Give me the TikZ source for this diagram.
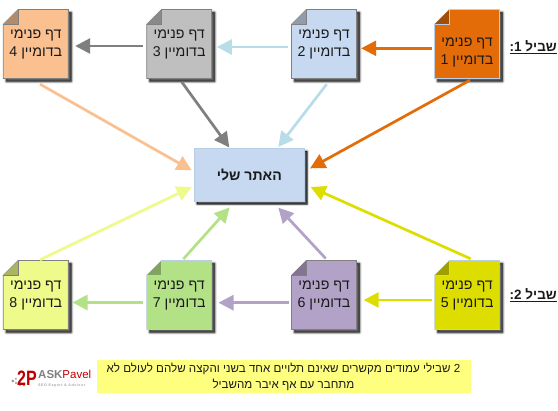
\documentclass[tikz,border=0pt]{standalone}
\usepackage{fontspec}
\usepackage{graphicx}
\setmainfont{Liberation Sans}
\newfontfamily\hebfont[Script=Hebrew]{Liberation Sans}
\TeXXeTstate=1
\usetikzlibrary{arrows.meta}
\definecolor{cOrange}{HTML}{E36C09}
\definecolor{cBlue}{HTML}{C6D9F1}
\definecolor{cGray}{HTML}{BFBFBF}
\definecolor{cPeach}{HTML}{FAC090}
\definecolor{cYellow}{HTML}{DDDD00}
\definecolor{cPurple}{HTML}{B3A2C7}
\definecolor{cGreen}{HTML}{B3E286}
\definecolor{cPale}{HTML}{EEFA8A}
\definecolor{cLBlue}{HTML}{B7DDE8}
\definecolor{cDGray}{HTML}{7F7F7F}
\definecolor{cEdgeA}{HTML}{B9CDE5}
\definecolor{cEdgeB}{HTML}{808080}
\definecolor{cNote}{HTML}{FFFF7F}
\definecolor{cInk}{HTML}{1A1A1A}
\newcommand{\softshadow}[1]{%
  \foreach \w/\o in {4/.12,2.7/.16,1.4/.22,0.2/.30}{
    \fill[black,opacity=\o,draw=black,line width=\w pt,line join=round,draw opacity=\o] #1;
  }}
% name, left, top, fill, edge, number, text raise
\newcommand{\docpage}[7]{%
  \begin{scope}[shift={(#2,#3)}]
    \begin{scope}[shift={(3,3)}]
      \softshadow{(15,0) -- (65,0) -- (65,69) -- (0,69) -- (0,15) -- cycle}
    \end{scope}
    \draw[fill=#4,draw=#5,line width=.9pt,line join=miter] (15,0) -- (65,0) -- (65,69) -- (0,69) -- (0,15) -- cycle;
    \fill[#4!72!black] (15,0) -- (15,15) -- (0,15) -- cycle;
    \draw[#5,line width=.9pt] (15,0) -- (15,15) -- (0,15);
    \node[doctext] (#1) at (32.5,34.5) {\raisebox{#7pt}[0pt][0pt]{\begin{tabular}{@{}c@{}}\beginR דף פנימי\endR\\\beginR בדומיין \beginL #6\endL\endR\end{tabular}}};
  \end{scope}}
\tikzset{
  doctext/.style={minimum width=65pt,minimum height=69pt,inner sep=0pt,align=center,
    font=\hebfont\fontsize{14.2}{18.5}\selectfont,text=cInk},
  conn/.style={draw=#1,line width=2.7pt,-{Triangle[length=15pt,width=15pt]}},
  pathlabel/.style={inner sep=0pt,font=\hebfont\bfseries\fontsize{13.5}{16}\selectfont,text=cInk},
}
\begin{document}
\begin{tikzpicture}[x=1pt,y=-1pt]
\useasboundingbox (0,0) rectangle (558,411);
\fill[white] (0,0) rectangle (558,411);
% central box
\softshadow{(197,151.5) rectangle (307,204)}
\node[fill=cBlue,draw=cEdgeA,line width=.6pt,minimum width=110pt,minimum height=52.5pt,inner sep=0pt,anchor=north west,
  font=\hebfont\bfseries\fontsize{14.1}{18}\selectfont,text=cInk] (site) at (194,148.3) {\beginR האתר שלי\endR};
% pages
\docpage{p1}{434.5}{9.5}{cOrange}{cEdgeA}{1}{-11.5}
\docpage{p2}{291.5}{9.5}{cBlue}{cEdgeB}{2}{-3.5}
\docpage{p3}{146.7}{9.5}{cGray}{cEdgeB}{3}{-3.5}
\docpage{p4}{3.3}{9.5}{cPeach}{cEdgeB}{4}{-3.5}
\docpage{p5}{434.7}{260.5}{cYellow}{cEdgeA}{5}{-3.5}
\docpage{p6}{291.5}{260.5}{cPurple}{cEdgeB}{6}{-3.5}
\docpage{p7}{146.7}{260.5}{cGreen}{cEdgeA}{7}{-3.5}
\docpage{p8}{3.3}{260.5}{cPale}{cEdgeB}{8}{-3.5}
% horizontal connectors
\draw[conn=cOrange]  ([shift={(-2.8,4.3)}]p1.west) -- ([shift={(4.5,4.3)}]p2.east);
\draw[conn=cLBlue]   ([shift={(-3.5,3)}]p2.west) -- ([shift={(5,3)}]p3.east);
\draw[conn=cDGray]   ([shift={(-3.4,2)}]p3.west) -- ([shift={(6.7,2)}]p4.east);
\draw[conn=cYellow]  ([shift={(-2.7,5)}]p5.west) -- ([shift={(7,5)}]p6.east);
\draw[conn=cPurple]  ([shift={(-2.5,7.7)}]p6.west) -- ([shift={(6.6,7.7)}]p7.east);
\draw[conn=cGreen]   ([shift={(-3.4,7.5)}]p7.west) -- ([shift={(4,7.5)}]p8.east);
% diagonal connectors to the central box
\draw[conn=cOrange]  ([shift={(3,1.5)}]p1.south) -- ([shift={(5.5,-6.5)}]site.east);
\draw[conn=cLBlue]   ([shift={(2.7,5.5)}]p2.south) -- ([shift={(29,-1.3)}]site.north);
\draw[conn=cDGray]   ([shift={(2.5,3.2)}]p3.south) -- ([shift={(-20,-.8)}]site.north);
\draw[conn=cPeach]   ([shift={(4.2,5.5)}]p4.south) -- ([shift={(-2.3,-4.5)}]site.west);
\draw[conn=cPale]    ([shift={(4.2,-.5)}]p8.north) -- ([shift={(-2.3,12.2)}]site.west);
\draw[conn=cGreen]   ([shift={(4.1,-1.2)}]p7.north) -- ([shift={(-19.7,6)}]site.south);
\draw[conn=cPurple]  ([shift={(1.7,-1.8)}]p6.north) -- ([shift={(29,6.2)}]site.south);
\draw[conn=cYellow]  ([shift={(3.5,-1.5)}]p5.north) -- ([shift={(6,12.2)}]site.east);
% labels
\node[pathlabel,anchor=east] (lab1) at (557,47) {\underline{\beginR שביל \beginL 1\endL:\endR}};
\node[pathlabel,anchor=east] (lab2) at (557,295) {\underline{\beginR שביל \beginL 2\endL:\endR}};
% note
\node[fill=cNote,minimum width=374pt,minimum height=33pt,inner sep=0pt,anchor=north west,align=center,
  font=\hebfont\fontsize{11.6}{16}\selectfont,text=cInk] (note) at (96.3,359.8)
  {\beginR \beginL 2\endL{} שבילי עמודים מקשרים שאינם תלויים אחד בשני והקצה שלהם לעולם לא\endR\\\beginR מתחבר עם אף איבר מהשביל\endR};
% logo
\fill[gray!80] (12.8,381) circle (1.5) (15.8,378.8) circle (1) (16,383) circle (1.2) (20,385) circle (1.2) (24,385.5) circle (1.1);
\node[inner sep=0pt,anchor=center,font=\bfseries\fontsize{16}{16}\selectfont,text=red!75!black] (logoa) at (27,378) {\scalebox{1}[1.3]{2P}};
\node[inner sep=0pt,anchor=west,font=\fontsize{11.5}{12}\selectfont] (logob) at (38,374.5) {\textcolor{gray}{\bfseries ASK}\textcolor{red!75!black}{Pavel}};
\node[inner sep=0pt,anchor=west,font=\bfseries\fontsize{3.6}{4}\selectfont\addfontfeature{LetterSpace=16},text=gray!70] (logoc) at (38,385.5) {SEO Expert \& Advisor};
\end{tikzpicture}
\end{document}
